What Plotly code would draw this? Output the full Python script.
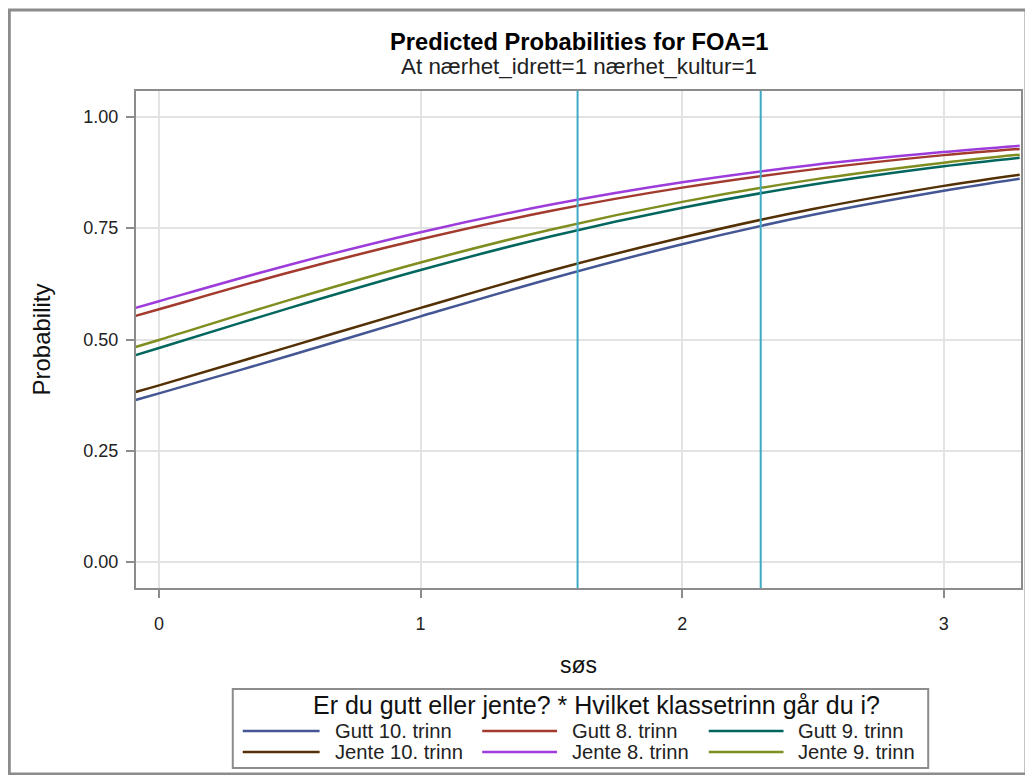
import plotly.graph_objects as go

# Data
sos = [-0.09, 0.0, 0.5, 1.0, 1.5, 2.0, 2.5, 3.0, 3.29]
gutt10 = [0.364, 0.379, 0.464, 0.552, 0.637, 0.714, 0.780, 0.834, 0.861]
gutt8 = [0.553, 0.568, 0.651, 0.725, 0.789, 0.841, 0.882, 0.914, 0.928]
gutt9 = [0.465, 0.481, 0.571, 0.656, 0.732, 0.796, 0.848, 0.889, 0.908]
jente10 = [0.382, 0.397, 0.484, 0.571, 0.655, 0.729, 0.793, 0.845, 0.870]
jente8 = [0.571, 0.586, 0.668, 0.741, 0.803, 0.853, 0.892, 0.921, 0.935]
jente9 = [0.483, 0.499, 0.589, 0.673, 0.747, 0.809, 0.859, 0.897, 0.915]
series_names = ["Gutt 10. trinn", "Gutt 8. trinn", "Gutt 9. trinn",
                "Jente 10. trinn", "Jente 8. trinn", "Jente 9. trinn"]
series_values = [gutt10, gutt8, gutt9, jente10, jente8, jente9]
colors = ["#445694", "#A23A2E", "#01665E", "#543005", "#9D3CDB", "#7F8E1F"]
ref_lines = [1.6, 2.3]
x_ticks = [0, 1, 2, 3]
y_ticks = [0.0, 0.25, 0.5, 0.75, 1.0]
y_tick_labels = ["0.00", "0.25", "0.50", "0.75", "1.00"]
legend_title = "Er du gutt eller jente? * Hvilket klassetrinn går du i?"

FONT = "Arial, Liberation Sans, sans-serif"

W, H = 1017, 767
ML, MR, MT, MB = 128, 2, 83, 187
PW, PH = W - ML - MR, H - MT - MB


def px_x(fx):
    return (fx - ML) / PW


def px_y(fy):
    return (H - MB - fy) / PH


fig = go.Figure()
for name, vals, col in zip(series_names, series_values, colors):
    fig.add_trace(go.Scatter(x=sos, y=vals, mode="lines", name=name, showlegend=False,
                             line=dict(color=col, width=2.5, shape="spline")))

shapes = []
annotations = []
for rx in ref_lines:
    shapes.append(dict(type="line", xref="x", yref="paper", x0=rx, x1=rx, y0=0, y1=1,
                       line=dict(color="#3EAAC5", width=2), layer="above"))

# outer frame
shapes.append(dict(type="rect", xref="paper", yref="paper",
                   x0=px_x(1), x1=px_x(W + 3), y0=px_y(H - 1), y1=px_y(2),
                   line=dict(color="#8C8C8C", width=3), layer="below"))

# legend box (drawn by hand so its size matches)
shapes.append(dict(type="rect", xref="paper", yref="paper",
                   x0=px_x(225), x1=px_x(922), y0=px_y(760), y1=px_y(681),
                   line=dict(color="#8C8C8C", width=2), fillcolor="white", layer="below"))
annotations.append(dict(text=legend_title, xref="paper", yref="paper",
                        x=px_x(590), y=px_y(697), xanchor="center", yanchor="middle",
                        showarrow=False, font=dict(size=25, color="#111111")))
col_line_x = [(235, 312), (475, 550), (702, 777)]
col_text_x = [325, 563, 789]
row_y = [723, 744]
for i, (name, col) in enumerate(zip(series_names, colors)):
    r, c = divmod(i, 3)
    lx0, lx1 = col_line_x[c]
    yy = px_y(row_y[r])
    shapes.append(dict(type="line", xref="paper", yref="paper",
                       x0=px_x(lx0), x1=px_x(lx1), y0=yy, y1=yy,
                       line=dict(color=col, width=2.5)))
    annotations.append(dict(text=name, xref="paper", yref="paper",
                            x=px_x(col_text_x[c]), y=yy, xanchor="left", yanchor="middle",
                            showarrow=False, font=dict(size=20.2, color="#222222")))

annotations += [
    dict(text="<b>Predicted Probabilities for FOA=1</b>", xref="paper", yref="paper",
         x=0.5, y=px_y(34), xanchor="center", yanchor="middle",
         showarrow=False, font=dict(size=23.7, color="#000000")),
    dict(text="At nærhet_idrett=1 nærhet_kultur=1", xref="paper", yref="paper",
         x=0.5, y=px_y(58), xanchor="center", yanchor="middle",
         showarrow=False, font=dict(size=22.4, color="#222222")),
]

fig.update_layout(
    width=W, height=H,
    margin=dict(l=ML, r=MR, t=MT, b=MB),
    paper_bgcolor="white", plot_bgcolor="white",
    font=dict(family=FONT, color="#222222", size=17),
    showlegend=False,
    shapes=shapes,
    annotations=annotations,
)

fig.update_xaxes(
    range=[-0.088, 3.295], tickvals=x_ticks, ticktext=[str(t) for t in x_ticks],
    showgrid=True, gridcolor="#E3E3E3", gridwidth=2, zeroline=False,
    showline=True, mirror=True, linecolor="#8C8C8C", linewidth=2,
    ticks="outside", ticklen=8, tickcolor="#8C8C8C", tickwidth=2,
    ticklabelstandoff=10, tickfont=dict(size=18, color="#222222"),
    title=dict(text="søs", font=dict(size=23, color="#111111"), standoff=24),
)
fig.update_yaxes(
    range=[-0.058, 1.058], tickvals=y_ticks, ticktext=y_tick_labels,
    showgrid=True, gridcolor="#E3E3E3", gridwidth=2, zeroline=False,
    showline=True, mirror=True, linecolor="#8C8C8C", linewidth=2,
    ticks="outside", ticklen=8, tickcolor="#8C8C8C", tickwidth=2,
    ticklabelstandoff=4, tickfont=dict(size=18, color="#222222"),
    title=dict(text="Probability", font=dict(size=24, color="#111111"), standoff=26),
)

fig.write_html("out.html")
